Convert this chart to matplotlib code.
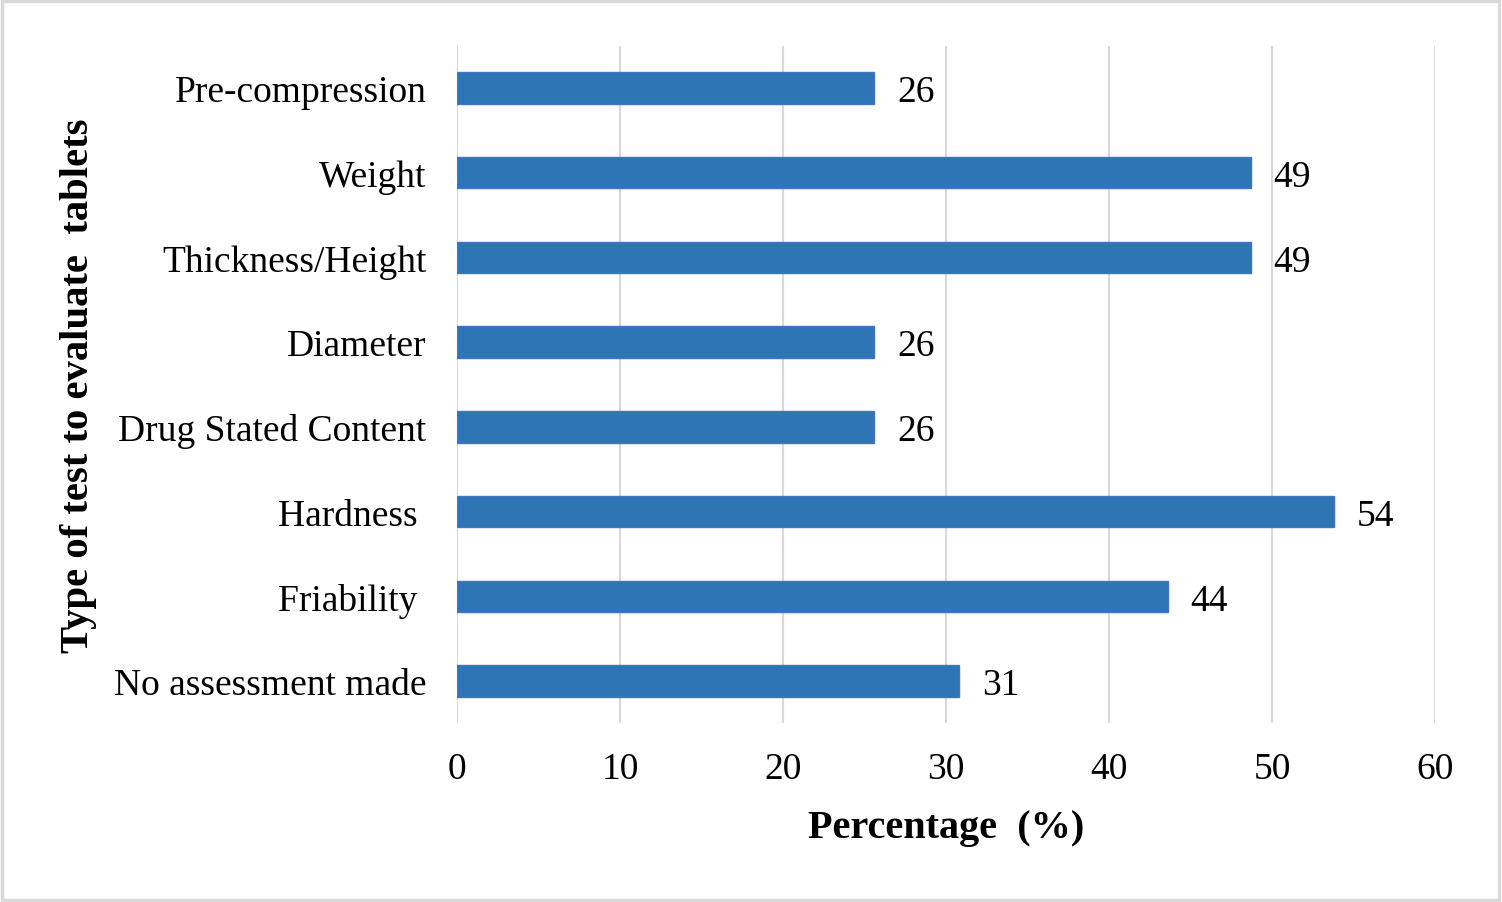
import matplotlib.pyplot as plt
from matplotlib.patches import Rectangle

plt.rcParams['font.family'] = ['Liberation Serif', 'DejaVu Serif']

# Data (top to bottom), percentages
categories = ['Pre-compression', 'Weight', 'Thickness/Height', 'Diameter',
              'Drug Stated Content', 'Hardness ', 'Friability ', 'No assessment made']
values = [25.6, 48.7, 48.7, 25.6, 25.6, 53.8, 43.6, 30.8]
xticks = [0, 10, 20, 30, 40, 50, 60]

fig = plt.figure(figsize=(15.02, 9.03), dpi=100)
ax = fig.add_axes([0.3043, 0.1978, 0.6511, 0.7506])

pos = list(range(len(categories)))
ax.barh(pos, values, height=0.37, color='#2E75B6', edgecolor='#4472C4',
        linewidth=1.0, zorder=3)
for p, v in zip(pos, values):
    ax.annotate('%.0f' % v, xy=(v, p), xytext=(16.5, 0), textcoords='offset points',
                ha='left', va='center_baseline', fontsize=27, color='black')

ax.set_yticks(pos)
ax.set_yticklabels(categories, fontsize=27)
ax.set_ylim(len(categories) - 0.5, -0.5)
ax.set_xlim(0, 60)
ax.set_xticks(xticks)
ax.set_xticklabels([str(t) for t in xticks], fontsize=27)
ax.tick_params(axis='y', length=0, pad=22)
ax.tick_params(axis='x', length=0, pad=20)

ax.grid(axis='x', color='#D9D9D9', linewidth=1.5, zorder=0)
ax.set_axisbelow(True)
for s in ax.spines.values():
    s.set_visible(False)

ax.set_xlabel('Percentage  (%)', fontsize=29, fontweight='bold', labelpad=17)
fig.text(0.052, 0.573, 'Type of test to evaluate  tablets', rotation=90,
         ha='center', va='center', fontsize=29.3, fontweight='bold')

# light frame round the figure
fig.patches.append(Rectangle((0.001, 0.002), 0.997, 0.996, transform=fig.transFigure,
                             fill=False, edgecolor='#D9D9D9', linewidth=2.5))

fig.savefig('out.png', dpi=100)
